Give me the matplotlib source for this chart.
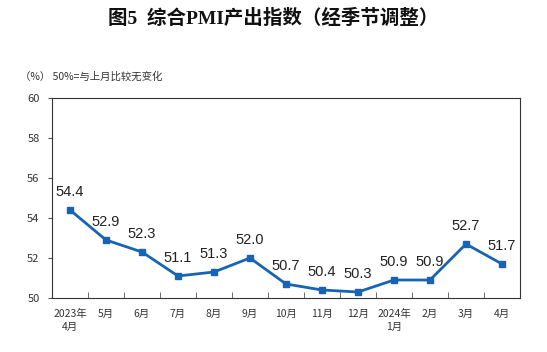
import matplotlib.pyplot as plt
import numpy as np

plt.rcParams['font.family'] = ['Noto Sans CJK SC', 'DejaVu Sans']

months = ['2023年\n4月', '5月', '6月', '7月', '8月', '9月', '10月', '11月',
          '12月', '2024年\n1月', '2月', '3月', '4月']
pmi = [54.4, 52.9, 52.3, 51.1, 51.3, 52.0, 50.7, 50.4, 50.3, 50.9, 50.9, 52.7, 51.7]
yticks = [50, 52, 54, 56, 58, 60]

col = '#1864B4'

fig = plt.figure(figsize=(5.47, 3.52), dpi=100)
ax = fig.add_axes([52/547, 1 - 298/352, 468/547, 200/352])

x = np.arange(len(pmi))
ax.plot(x, pmi, color=col, lw=2, marker='s', ms=4.5)
for xi, v in zip(x, pmi):
	ax.annotate(f'{v:.1f}', (xi, v), xytext=(0, 13), textcoords='offset points',
	            ha='center', va='center', fontsize=10.5, family=['Liberation Sans', 'DejaVu Sans'],
	            color='#222222')

ax.set_xlim(-0.5, len(pmi) - 0.5)
ax.set_ylim(50, 60)
ax.set_yticks(yticks)
ax.set_yticklabels([str(t) for t in yticks], fontsize=8, color='#333333')
ax.set_xticks(x)
ax.set_xticklabels(months, fontsize=7.5, color='#333333', va='top', linespacing=1.3)
ax.tick_params(axis='x', length=0, pad=8)
ax.set_xticks(np.arange(-0.5, len(pmi), 1), minor=True)
ax.tick_params(axis='x', which='minor', direction='in', length=4, color='#555555')
ax.tick_params(axis='y', length=3, pad=6, color='#555555')
for s in ax.spines.values():
	s.set_color('#333333')
	s.set_linewidth(0.8)

fig.text(0.5, 1 - 18/352, '图5  综合PMI产出指数（经季节调整）', ha='center', va='center',
         fontsize=14, fontweight='bold', color='#111111',
         family=['Liberation Serif', 'Noto Sans CJK SC'])
fig.text(20/547, 1 - 77/352, '（%） 50%=与上月比较无变化', ha='left', va='center',
         fontsize=7.5, color='#333333')

plt.savefig('out.png', dpi=100)
